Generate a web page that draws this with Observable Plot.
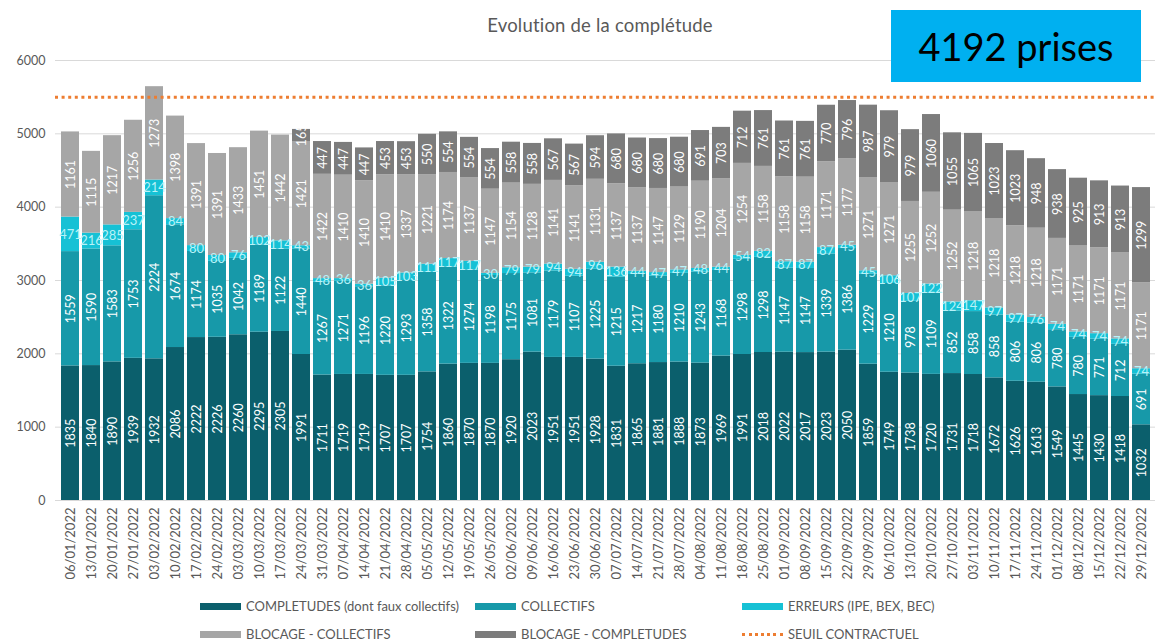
<!DOCTYPE html>
<html><head><meta charset="utf-8">
<script src="https://cdn.jsdelivr.net/npm/d3@7"></script>
<script src="https://cdn.jsdelivr.net/npm/@observablehq/plot@0.6"></script>
<style>
body{margin:0;background:#fff;overflow:hidden;font-family:Lato,"Liberation Sans",sans-serif;}
#wrap{position:relative;width:1155px;height:641px;overflow:hidden;background:#fff;}
#chart svg{overflow:hidden;}
#title{position:absolute;left:0;width:1200px;top:14px;text-align:center;font-size:18.5px;color:#595959;letter-spacing:0.2px;}
#box{position:absolute;left:891px;top:10px;width:250px;height:72px;background:#00b0f0;color:#000;font-size:38px;display:flex;align-items:center;justify-content:center;}
.leg{position:absolute;font-size:13px;color:#595959;display:flex;align-items:center;white-space:nowrap;}
.sw{width:41px;height:7px;margin-right:5px;}
.dot{width:41px;height:0;border-top:3px dotted #ed7d31;margin-right:5px;}
</style></head><body>
<div id="wrap">
<div id="chart"></div>
<div id="title">Evolution de la complétude</div>
<div id="box">4192 prises</div>
<div id="legend"></div>
</div>
<script>
const dates = ["06/01/2022","13/01/2022","20/01/2022","27/01/2022","03/02/2022","10/02/2022","17/02/2022","24/02/2022","03/03/2022","10/03/2022","17/03/2022","24/03/2022","31/03/2022","07/04/2022","14/04/2022","21/04/2022","28/04/2022","05/05/2022","12/05/2022","19/05/2022","26/05/2022","02/06/2022","09/06/2022","16/06/2022","23/06/2022","30/06/2022","07/07/2022","14/07/2022","21/07/2022","28/07/2022","04/08/2022","11/08/2022","18/08/2022","25/08/2022","01/09/2022","08/09/2022","15/09/2022","22/09/2022","29/09/2022","06/10/2022","13/10/2022","20/10/2022","27/10/2022","03/11/2022","10/11/2022","17/11/2022","24/11/2022","01/12/2022","08/12/2022","15/12/2022","22/12/2022","29/12/2022"];
const completudes = [1835,1840,1890,1939,1932,2086,2222,2226,2260,2295,2305,1991,1711,1719,1719,1707,1707,1754,1860,1870,1870,1920,2023,1951,1951,1928,1831,1865,1881,1888,1873,1969,1991,2018,2022,2017,2023,2050,1859,1749,1738,1720,1731,1718,1672,1626,1613,1549,1445,1430,1418,1032];
const collectifs = [1559,1590,1583,1753,2224,1674,1174,1035,1042,1189,1122,1440,1267,1271,1196,1220,1293,1358,1322,1274,1198,1175,1081,1179,1107,1225,1215,1217,1180,1210,1243,1168,1298,1298,1147,1147,1339,1386,1229,1210,978,1109,852,858,858,806,806,780,780,771,712,691];
const erreurs = [471,216,285,237,214,84,80,80,76,102,114,43,48,36,36,105,103,111,117,117,30,79,79,94,94,96,136,44,47,47,48,44,54,82,87,87,87,45,45,106,107,122,124,147,97,97,76,74,74,74,74,74];
const blocageCollectifs = [1161,1115,1217,1256,1273,1398,1391,1391,1433,1451,1442,1421,1422,1410,1410,1410,1337,1221,1174,1137,1147,1154,1128,1141,1141,1131,1137,1137,1147,1129,1190,1204,1254,1158,1158,1158,1171,1177,1271,1271,1255,1252,1252,1218,1218,1218,1218,1171,1171,1171,1171,1171];
const blocageCompletudes = [0,0,0,0,0,0,0,0,0,0,0,165,447,447,447,453,453,550,554,554,554,558,558,567,567,594,680,680,680,680,691,703,712,761,761,761,770,796,987,979,979,1060,1055,1065,1023,1023,948,938,925,913,913,1299];
const seuil = 5500;
const yTicks = [0,1000,2000,3000,4000,5000,6000];
const seriesNames = ["COMPLETUDES (dont faux collectifs)","COLLECTIFS","ERREURS (IPE, BEX, BEC)","BLOCAGE - COLLECTIFS","BLOCAGE - COMPLETUDES"];
const seriesColors = ["#0b5f6c","#1799a9","#16c1d5","#a6a6a6","#7c7c7c"];
const seriesValues = [completudes, collectifs, erreurs, blocageCollectifs, blocageCompletudes];

const rows = dates.flatMap((d, i) => seriesNames.map((s, k) => ({date: d, serie: s, value: seriesValues[k][i]})));
const ERR = seriesNames[2];

const chart = Plot.plot({
  width: 1155, height: 600,
  marginLeft: 55, marginRight: 0, marginTop: 60, marginBottom: 100,
  style: {fontFamily: "Lato, 'Liberation Sans', sans-serif", background: "transparent"},
  x: {type: "band", domain: dates, padding: 0.15, label: null},
  y: {domain: [0, 6000], label: null},
  color: {domain: seriesNames, range: seriesColors},
  marks: [
    Plot.gridY(yTicks, {stroke: "#d9d9d9", strokeOpacity: 1, strokeWidth: 1}),
    Plot.axisY(yTicks, {tickSize: 0, tickPadding: 10, fontSize: 12.5, fill: "#595959", label: null, tickFormat: d => String(d)}),
    Plot.barY(rows, Plot.stackY({x: "date", y: "value", fill: "serie", order: seriesNames})),
    Plot.text(rows, Plot.stackY({x: "date", y: "value", z: "serie", order: seriesNames,
      text: d => (d.serie !== ERR && d.value > 0) ? String(d.value) : "",
      rotate: -90, fill: "white", fontSize: 12.5})),
    Plot.text(rows, Plot.stackY({x: "date", y: "value", z: "serie", order: seriesNames,
      text: d => (d.serie === ERR && d.value > 0) ? String(d.value) : "",
      fill: "#b8f2f8", fontSize: 13})),
    Plot.ruleY([seuil], {stroke: "#ed7d31", strokeWidth: 3, strokeDasharray: "3,3.6"}),
    Plot.axisX({tickSize: 0, tickPadding: 7, tickRotate: -90, fontSize: 13, fill: "#595959", label: null})
  ]
});
document.getElementById("chart").appendChild(chart);

const legendItems = [
  {t: seriesNames[0], c: seriesColors[0], x: 200, y: 598},
  {t: seriesNames[1], c: seriesColors[1], x: 475, y: 598},
  {t: seriesNames[2], c: seriesColors[2], x: 742, y: 598},
  {t: seriesNames[3], c: seriesColors[3], x: 200, y: 626},
  {t: seriesNames[4], c: seriesColors[4], x: 475, y: 626},
  {t: "SEUIL CONTRACTUEL", c: null, x: 742, y: 626}
];
const leg = document.getElementById("legend");
legendItems.forEach(it => {
  const div = document.createElement("div");
  div.className = "leg";
  div.style.left = it.x + "px";
  div.style.top = it.y + "px";
  div.style.height = "16px";
  const sw = document.createElement("div");
  if (it.c) { sw.className = "sw"; sw.style.background = it.c; } else { sw.className = "dot"; }
  const sp = document.createElement("span");
  sp.textContent = it.t;
  div.appendChild(sw); div.appendChild(sp);
  leg.appendChild(div);
});
</script>
</body></html>
